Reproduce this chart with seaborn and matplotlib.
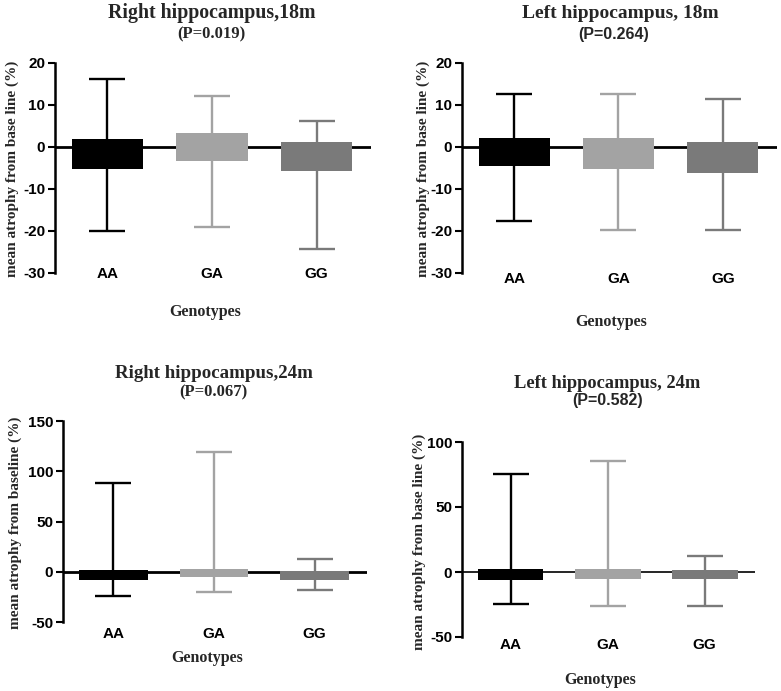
import matplotlib
matplotlib.use("Agg")
import matplotlib.pyplot as plt
import seaborn as sns
import pandas as pd

sns.set_theme(style="white")
plt.rcParams["font.family"] = ["Liberation Sans", "DejaVu Sans"]

genotypes = ["AA", "GA", "GG"]
colors = ["#000000", "#a3a3a3", "#7a7a7a"]

titles = ["Right hippocampus,18m", "Left hippocampus, 18m",
          "Right hippocampus,24m", "Left hippocampus, 24m"]
pvals = ["(P=0.019)", "(P=0.264)", "(P=0.067)", "(P=0.582)"]
ylabels = ["mean atrophy from base line (%)", "mean atrophy from base line (%)",
           "mean atrophy from baseline (%)", "mean atrophy from base line (%)"]
xlabel = "Genotypes"

# box (floating bar) upper / lower edges, whisker max / min
r18_high = [2.0, 3.3, 1.2]
r18_low = [-5.2, -3.4, -5.6]
r18_max = [16.1, 12.1, 6.2]
r18_min = [-20.0, -19.0, -24.4]

l18_high = [2.1, 2.1, 1.2]
l18_low = [-4.5, -5.2, -6.2]
l18_max = [12.6, 12.6, 11.4]
l18_min = [-17.5, -19.8, -19.8]

r24_high = [1.7, 3.0, 0.3]
r24_low = [-7.9, -5.6, -7.9]
r24_max = [88.6, 119.3, 12.2]
r24_min = [-23.8, -19.8, -18.5]

l24_high = [2.3, 2.3, 1.8]
l24_low = [-5.9, -5.1, -5.1]
l24_max = [75.6, 85.6, 12.6]
l24_min = [-24.6, -26.2, -26.2]

panels = [
    (r18_high, r18_low, r18_max, r18_min),
    (l18_high, l18_low, l18_max, l18_min),
    (r24_high, r24_low, r24_max, r24_min),
    (l24_high, l24_low, l24_max, l24_min),
]
ylims = [(-30, 20), (-30, 20), (-50, 150), (-50, 100)]
yticks = [[-30, -20, -10, 0, 10, 20], [-30, -20, -10, 0, 10, 20],
          [-50, 0, 50, 100, 150], [-50, 0, 50, 100]]

W, H = 781, 691
fig = plt.figure(figsize=(W / 100, H / 100), dpi=100)

# axes boxes in pixels: left, right, top, bottom
boxes = [(55, 371, 63, 273), (462, 777, 63, 273),
         (63, 367, 421, 622), (462, 755, 442, 637)]
title_pos = [(212, 13, 211, 34), (620, 13, 614, 34),
             (214, 373, 213, 392), (607, 383, 608, 401)]
title_fs = [14.3, 14.0, 13.6, 13.2]
p_serif = [True, False, True, False]
xlab_y = [312, 322, 658, 680]
ylab_pos = [(12, 169), (423, 169), (15, 523), (419, 542)]
xtick_pad = [-4.5, -1, 3.5, 1]
zero_lw = [2, 2, 2, 1.2]

serif = ["Liberation Serif", "DejaVu Serif"]

for i, (hi, lo, mx, mn) in enumerate(panels):
    l, r, t, b = boxes[i]
    ax = fig.add_axes([l / W, 1 - b / H, (r - l) / W, (b - t) / H])
    df = pd.DataFrame({"genotype": genotypes, "high": hi, "low": lo,
                       "max": mx, "min": mn})
    ax.axhline(0, color="black", lw=zero_lw[i], zorder=1)
    # whiskers
    for j, g in enumerate(genotypes):
        row = df.iloc[j]
        ax.errorbar([j], [0], yerr=[[0 - row["min"]], [row["max"] - 0]],
                    fmt="none", ecolor=colors[j], elinewidth=1.7,
                    capsize=13, capthick=1.7, zorder=2)
    sns.barplot(data=df, x="genotype", y="high", hue="genotype",
                palette=colors, order=genotypes, hue_order=genotypes,
                width=0.68, saturation=1, legend=False, ax=ax, zorder=3,
                linewidth=0)
    sns.barplot(data=df, x="genotype", y="low", hue="genotype",
                palette=colors, order=genotypes, hue_order=genotypes,
                width=0.68, saturation=1, legend=False, ax=ax, zorder=3,
                linewidth=0)
    ax.set_xlim(-0.5, 2.52)
    ax.set_ylim(*ylims[i])
    ax.set_yticks(yticks[i])
    ax.set_yticklabels([str(v) for v in yticks[i]], fontweight="bold",
                       fontsize=11)
    ax.set_xticks(range(3))
    ax.set_xticklabels(genotypes, fontweight="bold", fontsize=11)
    for s in ["top", "right", "bottom"]:
        ax.spines[s].set_visible(False)
    ax.spines["left"].set_linewidth(1.8)
    ax.spines["left"].set_color("black")
    ax.tick_params(axis="y", left=True, length=5, width=1.5, pad=2,
                   colors="black", direction="out")
    ax.tick_params(axis="x", bottom=False, length=0, pad=xtick_pad[i],
                   colors="black")
    ax.set_xlabel("")
    ax.set_ylabel("")
    ax.patch.set_alpha(0)
    # titles
    tx, ty, px, py = title_pos[i]
    fig.text(tx / W, 1 - ty / H, titles[i], ha="center", va="center",
             fontsize=title_fs[i], fontweight="bold", family=serif)
    fig.text(px / W, 1 - py / H, pvals[i], ha="center", va="center",
             fontsize=12 if p_serif[i] else 11.5, fontweight="bold",
             family=serif if p_serif[i] else ["Liberation Sans", "DejaVu Sans"])
    fig.text(((l + r) / 2 - 8) / W, 1 - xlab_y[i] / H, xlabel, ha="center",
             va="center", fontsize=11.5, fontweight="bold", family=serif)
    yx, yy = ylab_pos[i]
    fig.text(yx / W, 1 - yy / H, ylabels[i], ha="center", va="center",
             rotation=90, fontsize=11, fontweight="bold", family=serif)

fig.savefig("out.png", dpi=100, facecolor="white")
